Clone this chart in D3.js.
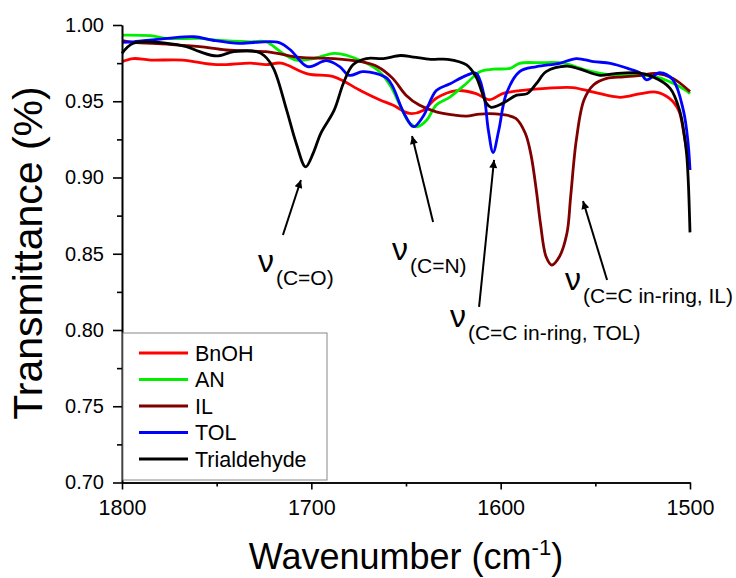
<!DOCTYPE html>
<html>
<head>
<meta charset="utf-8">
<script src="https://cdn.jsdelivr.net/npm/d3@7"></script>
<style>
  body { margin: 0; background: #fff; }
  svg { display: block; font-family: "Liberation Sans", Arial, sans-serif; }
</style>
</head>
<body>
<svg id="chart" width="736" height="578"></svg>
<script>
// ---------- DATA ----------
const seriesNames = ["BnOH", "AN", "IL", "TOL", "Trialdehyde"];
const seriesColors = ["#ff0000", "#00ee00", "#800000", "#0000ff", "#000000"];

const wnBnOH = [1800,1794,1785,1768,1750,1732,1724,1716,1702,1688,1674,1664,1657,1648,1641,1634,1623,1613,1606,1599,1590,1576,1562,1551,1537,1526,1518,1511,1506,1503,1500];
const tBnOH  = [0.976,0.978,0.977,0.977,0.974,0.975,0.974,0.975,0.968,0.966,0.957,0.951,0.9475,0.942,0.944,0.952,0.957,0.955,0.951,0.955,0.957,0.9585,0.959,0.956,0.9526,0.955,0.956,0.952,0.944,0.927,0.905];

const wnAN = [1800,1785,1776,1759,1750,1732,1724,1715,1708,1699,1688,1681,1671,1664,1658,1653,1648,1644,1639,1634,1627,1618,1611,1604,1595,1590,1579,1567,1555,1540,1526,1518,1511,1502,1500];
const tAN  = [0.9934,0.993,0.9912,0.9912,0.990,0.989,0.989,0.9814,0.977,0.978,0.9814,0.980,0.975,0.9694,0.9596,0.947,0.9355,0.9333,0.9377,0.9475,0.9526,0.9618,0.9694,0.971,0.9716,0.9749,0.9753,0.975,0.9705,0.967,0.967,0.966,0.963,0.957,0.955];

const wnIL = [1800,1794,1776,1759,1745,1724,1718,1706,1688,1674,1665,1657,1650,1643,1634,1625,1618,1611,1600,1592,1587,1584,1581,1579,1576,1573,1569,1565,1563,1560,1556,1551,1544,1535,1526,1518,1509,1500];
const tIL  = [0.9897,0.9886,0.9874,0.9858,0.9836,0.9825,0.9814,0.9788,0.978,0.976,0.9727,0.965,0.954,0.9475,0.943,0.941,0.9403,0.9416,0.9414,0.9388,0.929,0.915,0.89,0.87,0.848,0.8426,0.848,0.8634,0.888,0.925,0.9508,0.9607,0.965,0.966,0.967,0.9683,0.965,0.9563];

const wnTOL = [1800,1794,1776,1762,1752,1738,1725,1717,1711,1702,1692,1685,1680,1673,1666,1660,1657,1651,1646,1641,1634,1627,1618,1613,1609,1606.5,1604,1601,1597,1590,1581,1569,1560,1551,1542,1533,1526,1523,1516,1509,1503.5,1501,1500];
const tTOL  = [0.9886,0.989,0.9912,0.9923,0.990,0.988,0.989,0.9884,0.9836,0.9727,0.9766,0.9727,0.967,0.9694,0.9683,0.965,0.9596,0.942,0.9333,0.940,0.957,0.9613,0.967,0.9683,0.955,0.931,0.9163,0.931,0.955,0.9694,0.9727,0.9749,0.978,0.976,0.9749,0.9716,0.9683,0.964,0.9687,0.964,0.944,0.9225,0.905];

const wnTri = [1800,1794,1776,1766,1759,1750,1741,1729,1725,1720,1713,1708,1703,1699,1695,1688,1683,1678,1671,1662,1653,1646,1637,1628,1618,1613,1607.5,1605,1599,1591.5,1586,1581,1576,1565,1558,1547.5,1540.5,1528,1519.5,1510.5,1505.5,1502,1501,1500];
const tTri  = [0.9814,0.988,0.988,0.9858,0.9825,0.9797,0.9825,0.9825,0.980,0.9716,0.944,0.9225,0.907,0.916,0.929,0.944,0.962,0.974,0.978,0.978,0.980,0.979,0.9775,0.9775,0.9738,0.966,0.9486,0.946,0.9486,0.954,0.955,0.9618,0.9694,0.973,0.971,0.967,0.968,0.9687,0.966,0.9585,0.944,0.918,0.90,0.864];

const xTicks = [1800, 1700, 1600, 1500];
const xMinorTicks = [1750, 1650, 1550];
const yTicks = [0.70, 0.75, 0.80, 0.85, 0.90, 0.95, 1.00];
const yMinorTicks = [0.725, 0.775, 0.825, 0.875, 0.925, 0.975];

// annotations: text anchor (wavenumber, transmittance), arrow tail and tip
const annLabels = ["(C=O)", "(C=N)", "(C=C in-ring, TOL)", "(C=C in-ring, IL)"];
const annTextWn = [1728.2, 1657.4, 1626.8, 1566.0];
const annTextT  = [0.838, 0.8459, 0.802, 0.8262];
const annTailWn = [1715, 1635.7, 1611.4, 1543.8];
const annTailT  = [0.8623, 0.8708, 0.8151, 0.8328];
const annTipWn  = [1705.5, 1646.8, 1603.5, 1556.5];
const annTipT   = [0.8984, 0.9272, 0.9115, 0.8846];

// ---------- CHART ----------
const svg = d3.select("#chart");
const x = d3.scaleLinear().domain([1800, 1500]).range([122, 690]);
const y = d3.scaleLinear().domain([0.70, 1.00]).range([482.5, 25]);

const series = [
  {wn: wnBnOH, t: tBnOH},
  {wn: wnAN, t: tAN},
  {wn: wnIL, t: tIL},
  {wn: wnTOL, t: tTOL},
  {wn: wnTri, t: tTri}
].map((s, i) => ({name: seriesNames[i], color: seriesColors[i], pts: s.wn.map((w, j) => [w, s.t[j]])}));

const line = d3.line().x(d => x(d[0])).y(d => y(d[1])).curve(d3.curveCatmullRom.alpha(0.5));

svg.append("g").selectAll("path").data(series).join("path")
  .attr("d", d => line(d.pts))
  .attr("fill", "none")
  .attr("stroke", d => d.color)
  .attr("stroke-width", 2.8)
  .attr("stroke-linejoin", "round");

// axes
const axisStyle = g => {
  g.selectAll("path.domain").attr("stroke", "#000").attr("stroke-width", 1.6);
  g.selectAll(".tick line").attr("stroke", "#000").attr("stroke-width", 1.6);
  g.selectAll(".tick text").attr("fill", "#000").attr("font-family", "Liberation Sans, Arial, sans-serif");
};

svg.append("g").attr("transform", "translate(0,482.5)")
  .call(d3.axisBottom(x).tickValues(xMinorTicks).tickSize(4).tickSizeOuter(0).tickFormat(""))
  .call(axisStyle);
svg.append("g").attr("transform", "translate(0,482.5)")
  .call(d3.axisBottom(x).tickValues(xTicks).tickSize(7).tickSizeOuter(0).tickPadding(10).tickFormat(d3.format("d")))
  .call(axisStyle)
  .call(g => g.selectAll(".tick text").attr("font-size", 21.5));

svg.append("g").attr("transform", "translate(122,0)")
  .call(d3.axisLeft(y).tickValues(yMinorTicks).tickSize(5).tickSizeOuter(0).tickFormat(""))
  .call(axisStyle);
svg.append("g").attr("transform", "translate(122,0)")
  .call(d3.axisLeft(y).tickValues(yTicks).tickSize(9).tickSizeOuter(0).tickPadding(9).tickFormat(d3.format(".2f")))
  .call(axisStyle)
  .call(g => g.selectAll(".tick text").attr("font-size", 20));

// axis titles
const xt = svg.append("text").attr("x", 406).attr("y", 569).attr("text-anchor", "middle")
  .attr("font-size", 36).attr("fill", "#000");
xt.append("tspan").text("Wavenumber (cm");
xt.append("tspan").attr("dy", -14).attr("font-size", 22).text("-1");
xt.append("tspan").attr("dy", 14).text(")");

svg.append("text").attr("transform", "translate(42,253) rotate(-90)")
  .attr("text-anchor", "middle").attr("font-size", 41).attr("fill", "#000")
  .text("Transmittance (%)");

// legend
const lg = svg.append("g");
lg.append("rect").attr("x", 123).attr("y", 333).attr("width", 204).attr("height", 147)
  .attr("fill", "#fff").attr("stroke", "#888").attr("stroke-width", 1);
const legItems = lg.selectAll("g.item").data(series).join("g").attr("class", "item")
  .attr("transform", (d, i) => `translate(0,${353 + i * 26.5})`);
legItems.append("line").attr("x1", 139).attr("x2", 188).attr("y1", 0).attr("y2", 0)
  .attr("stroke", d => d.color).attr("stroke-width", 3);
legItems.append("text").attr("x", 195).attr("y", 7.5).attr("font-size", 21.5).attr("fill", "#000")
  .text(d => d.name);

// annotations
svg.append("defs").append("marker").attr("id", "ah")
  .attr("viewBox", "0 0 10 10").attr("refX", 10).attr("refY", 5)
  .attr("markerWidth", 12).attr("markerHeight", 8).attr("markerUnits", "userSpaceOnUse")
  .attr("orient", "auto")
  .append("path").attr("d", "M0,0 L10,5 L0,10 Z").attr("fill", "#000");

const anns = annLabels.map((l, i) => ({label: l, tx: annTextWn[i], ty: annTextT[i],
  x1: annTailWn[i], y1: annTailT[i], x2: annTipWn[i], y2: annTipT[i]}));

svg.append("g").selectAll("line").data(anns).join("line")
  .attr("x1", d => x(d.x1)).attr("y1", d => y(d.y1))
  .attr("x2", d => x(d.x2)).attr("y2", d => y(d.y2))
  .attr("stroke", "#000").attr("stroke-width", 2).attr("marker-end", "url(#ah)");

const at = svg.append("g").selectAll("text").data(anns).join("text")
  .attr("x", d => x(d.tx)).attr("y", d => y(d.ty)).attr("fill", "#000");
at.append("tspan").attr("font-size", 32).text("ν");
at.append("tspan").attr("font-size", 21).attr("dx", 2).attr("dy", 13).text(d => d.label);
</script>
</body>
</html>
